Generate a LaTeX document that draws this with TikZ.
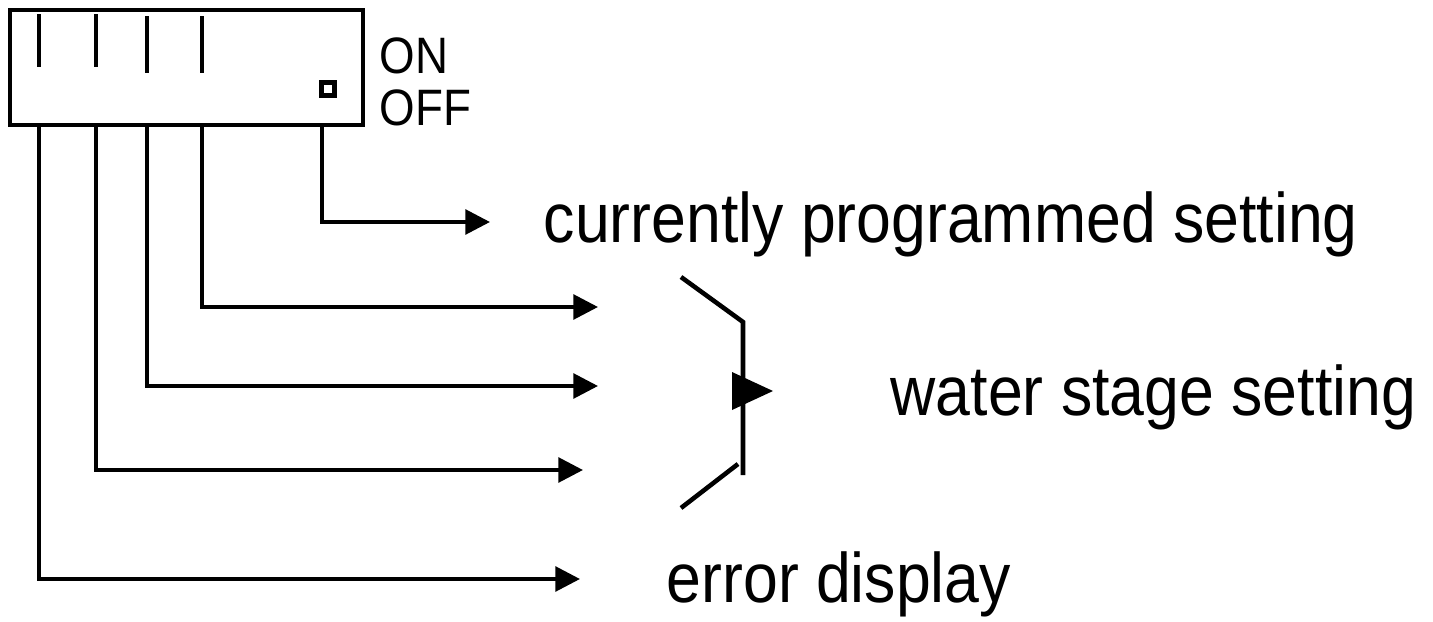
\documentclass[tikz,border=0pt]{standalone}
\usepackage{graphicx}
\usepackage{fontspec}
\setmainfont{Liberation Sans}
\usetikzlibrary{arrows.meta, positioning}
\newcommand\tallbox[1]{\scalebox{1}[1.12]{#1}}
\begin{document}
\begin{tikzpicture}[x=0.01cm, y=-0.01cm,
  lead/.style={line width=1.1pt, -{Triangle[length=7pt, width=7pt]}},
  tick/.style={line width=1.3pt},
  bigtxt/.style={anchor=base west, font=\fontsize{17.8}{21}\selectfont},
  swtxt/.style={anchor=base west, font=\fontsize{13}{15}\selectfont}]
\tikzstyle{every node}+=[inner sep=0pt]
\useasboundingbox (0,0) rectangle (1433,621);
\node [draw, line width=1.2pt, minimum width=3.53cm, minimum height=1.15cm] (panel) at (186.5,67.5) {};
\draw [tick] (39,14) -- (39,67);
\draw [tick] (96,14) -- (96,67);
\draw [tick] (147,16) -- (147,73);
\draw [tick] (202,16) -- (202,73);
\draw [line width=1.6pt] (321.5,82.5) rectangle (334.5,95.5);
\node [swtxt] (on) at (379,73) {\tallbox{ON}};
\node [swtxt] (off) at (379,125) {\tallbox{OFF}};
\coordinate (l1) at (39,125);
\coordinate (l2) at (96,125);
\coordinate (l3) at (147,125);
\coordinate (l4) at (202,125);
\coordinate (l5) at (322,125);
\coordinate (t1) at (580,579);
\coordinate (t2) at (583,470);
\coordinate (t3) at (598,386);
\coordinate (t4) at (598,307);
\coordinate (t5) at (490,222);
\draw [lead] (l1) |- (t1);
\draw [lead] (l2) |- (t2);
\draw [lead] (l3) |- (t3);
\draw [lead] (l4) |- (t4);
\draw [lead] (l5) |- (t5);
\coordinate (brtop) at (743,322);
\coordinate (brbot) at (743,475);
\draw [tick] (681,277) -- (brtop) -- (brbot);
\draw [tick] (681,508) -- (738,464);
\fill (732,372) -- (773,391) -- (732,410) -- cycle;
\node [bigtxt] (cur) at (543,242) {\tallbox{currently programmed setting}};
\node [bigtxt] (water) at (890,415) {\tallbox{water stage setting}};
\node [bigtxt] (err) at (666,602) {\tallbox{error display}};
\end{tikzpicture}
\end{document}
